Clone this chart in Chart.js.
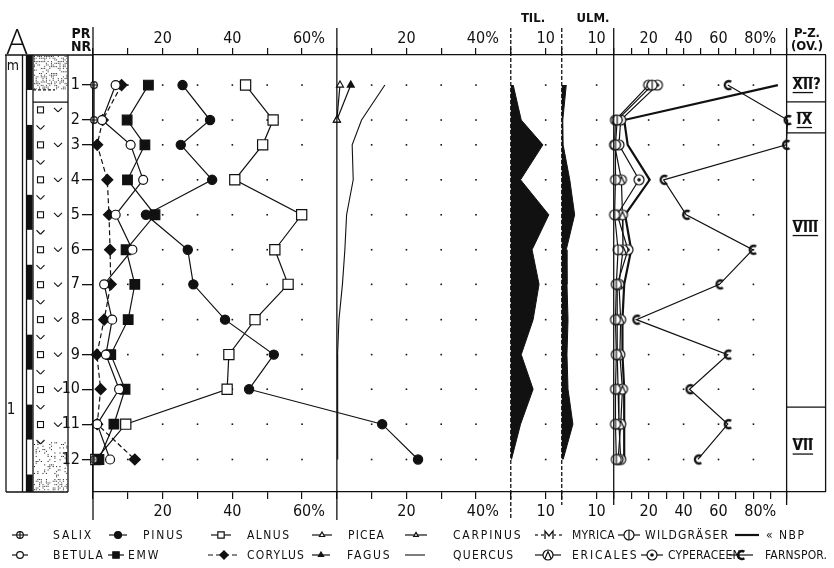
<!DOCTYPE html>
<html>
<head>
<meta charset="utf-8">
<script src="https://cdn.jsdelivr.net/npm/chart.js"></script>
<style>
  html, body { margin: 0; padding: 0; background: #fff; }
  #diagramm { display: block; }
</style>
</head>
<body>
<canvas id="diagramm" width="834" height="568"></canvas>
<script>
  // Proben und Tiefen (cm)
  const probeNr = [1, 2, 3, 4, 5, 6, 7, 8, 9, 10, 11, 12];
  const tiefeCm = [8.6, 18.6, 25.7, 35.7, 45.7, 55.7, 65.6, 75.7, 85.7, 95.6, 105.6, 115.7];

  // Baumpollen (%)
  const salix   = [0.3, 0.3, null, null, null, null, null, null, null, null, null, 0.3];
  const betula  = [6.5, 2.6, 10.8, 14.4, 6.5, 11.3, 3.2, 5.5, 3.7, 7.5, 1.2, 4.9];
  const pinus   = [25.7, 33.6, 25.2, 34.2, 15.2, 27.2, 28.8, 37.9, 51.9, 44.8, 83.0, 93.3];
  const emw     = [15.9, 9.8, 14.9, 9.9, 17.8, 9.5, 12.0, 10.1, 5.1, 9.2, 6.0, 1.7];
  const alnus   = [43.8, 51.7, 48.7, 40.7, 59.9, 52.2, 56.0, 46.5, 39.0, 38.5, 9.4, 0.8];
  const corylus = [8.2, 2.8, 1.2, 4.1, 4.6, 4.9, 5.1, 3.2, 1.1, 2.2, 1.2, 12.0];

  const picea    = [0.9, 0, null, null, null, null, null, null, null, null, null, null];
  const fagus    = [4.0, 0, null, null, null, null, null, null, null, null, null, null];
  const carpinus = [null, null, null, null, null, null, null, null, null, null, null, null];
  const myrica   = [null, null, null, null, null, null, null, null, null, null, null, null];
  const quercus  = [13.8, 7.1, 4.4, 4.7, 2.8, 2.3, 1.6, 0.6, 0.2, 0.3, 0.2, 0.2];

  const tilia = [0.7, 3.0, 9.2, 2.8, 10.9, 6.1, 8.1, 6.4, 3.0, 6.4, 2.8, 0.2];
  const ulmus = [1.3, 0.3, 0.4, 2.3, 3.7, 1.3, 1.5, 1.8, 1.5, 1.8, 3.2, 0.4];

  // Nichtbaumpollen und Sporen (%)
  const wildgraeser = [22, 2, 1, 1, 0.5, 2.5, 1.5, 1, 1.5, 1, 1, 1.5];
  const ericales    = [20, 1, 0.5, 4.4, 5, 5.3, 3, 4, 3.5, 5, 4, 2.5];
  const cyperaceen  = [25, 4, 3, 14.5, 2, 8.2, 2, 2, 2, 2.5, 3, 4];
  const nbp         = [94, 6, 8, 20.6, 6.5, 10, 6, 5, 5, 6, 6, 6];
  const farnsporen  = [65.3, 99.6, 98.7, 28.6, 41.5, 79.6, 60.6, 13, 65.3, 43.4, 65.3, 48.2];

  // Achsen: Teilstriche und Beschriftungen
  const p1Ticks = [0, 10, 20, 30, 40, 50, 60, 70];
  const p1Labels = ['', '', '20', '', '40', '', '\u2007 60%', ''];
  const p2Ticks = [0, 10, 20, 30, 40, 50];
  const p2Labels = ['', '', '20', '', '\u2007 40%', ''];
  const tilTicks = [0, 10, 14.6];
  const tilLabels = ['', '10', ''];
  const ulmTicks = [0, 10, 14.9];
  const ulmLabels = ['', '10', ''];
  const p5Ticks = [0, 10, 20, 30, 40, 50, 60, 70, 80, 90, 99];
  const p5Labels = ['', '', '20', '', '40', '', '60', '', '\u2007 80%', '', ''];

  // Pollenzonen (OV.)
  const zonenName = ['XII', 'IX', 'VIII', 'VII'];
  const zonenZusatz = ['?', '', '', ''];
  const zonenMitte = [8.6, 18.6, 49.5, 112];
  const zonenGrenzen = [13.4, 22.3, 100.7];

  const schrift = '"DejaVu Sans Condensed", "DejaVu Sans", sans-serif';
  const schwarz = '#111';
  Chart.defaults.font.family = schrift;
  Chart.defaults.color = schwarz;

  function marke(groesse, zeichnen) {
    const c = document.createElement('canvas');
    c.width = groesse; c.height = groesse;
    const g = c.getContext('2d');
    g.strokeStyle = schwarz; g.fillStyle = schwarz; g.lineWidth = 1.2;
    zeichnen(g, groesse / 2);
    return c;
  }
  function kreis(g, m, r) {
    g.beginPath(); g.arc(m, m, r, 0, Math.PI * 2);
    g.fillStyle = '#fff'; g.fill(); g.stroke(); g.fillStyle = schwarz;
  }
  const mSalix = marke(10, (g, m) => {
    kreis(g, m, 3.3);
    g.beginPath(); g.moveTo(m - 3.3, m); g.lineTo(m + 3.3, m); g.moveTo(m, m - 3.3); g.lineTo(m, m + 3.3); g.stroke();
  });
  const mWild = marke(14, (g, m) => {
    kreis(g, m, 5);
    g.beginPath(); g.moveTo(m, m - 5); g.lineTo(m, m + 5); g.stroke();
  });
  const mEric = marke(14, (g, m) => {
    kreis(g, m, 5);
    g.beginPath(); g.moveTo(m - 3, m + 3.5); g.lineTo(m, m - 3.5); g.lineTo(m + 3, m + 3.5); g.stroke();
  });
  const mCyper = marke(14, (g, m) => {
    kreis(g, m, 5);
    g.beginPath(); g.arc(m, m, 1.8, 0, Math.PI * 2); g.fill();
  });
  const mFarn = marke(14, (g, m) => {
    g.lineWidth = 2.4;
    g.beginPath(); g.arc(m + 1, m, 4, 0.3 * Math.PI, 1.7 * Math.PI); g.stroke();
  });
  const mMyrica = marke(12, (g, m) => {
    g.fillStyle = '#fff'; g.fillRect(1, 1, 10, 10);
    g.lineWidth = 1.3;
    g.beginPath(); g.moveTo(m - 4, m + 4); g.lineTo(m - 4, m - 4); g.lineTo(m, m + 1); g.lineTo(m + 4, m - 4); g.lineTo(m + 4, m + 4); g.stroke();
  });

  function reihe(label, werte, achse, stil) {
    return Object.assign({
      label: label,
      xAxisID: achse,
      yAxisID: 'y',
      data: werte.map((v, i) => ({ x: v, y: tiefeCm[i] })),
      borderColor: schwarz,
      borderWidth: 1.2,
      pointBorderColor: schwarz,
      pointBackgroundColor: schwarz,
      pointBorderWidth: 1.2,
      pointRadius: 4,
      fill: false,
      tension: 0,
      spanGaps: false,
      clip: false
    }, stil);
  }

  const datensaetze = [
    reihe('SALIX', salix, 'p1', { pointStyle: mSalix }),
    reihe('BETULA', betula, 'p1', { pointStyle: 'circle', pointRadius: 4.5, pointBackgroundColor: '#fff' }),
    reihe('PINUS', pinus, 'p1', { pointStyle: 'circle', pointRadius: 4.6 }),
    reihe('EMW', emw, 'p1', { pointStyle: 'rect', pointRadius: 6.8 }),
    reihe('ALNUS', alnus, 'p1', { pointStyle: 'rect', pointRadius: 7.2, pointBackgroundColor: '#fff' }),
    reihe('CORYLUS', corylus, 'p1', { pointStyle: 'rectRot', pointRadius: 5.5, borderDash: [5, 3] }),
    reihe('PICEA', picea, 'p2', { pointStyle: 'triangle', pointRadius: 4, pointBackgroundColor: '#fff' }),
    reihe('FAGUS', fagus, 'p2', { pointStyle: 'triangle', pointRadius: 4 }),
    reihe('CARPINUS', carpinus, 'p2', { pointStyle: 'triangle', pointRadius: 3.5, pointBackgroundColor: '#fff' }),
    reihe('MYRICA', myrica, 'p2', { pointStyle: mMyrica, borderDash: [3, 3] }),
    reihe('QUERCUS', quercus, 'p2', { pointRadius: 0, borderWidth: 1.1 }),
    reihe('TIL.', tilia, 'til', { pointRadius: 0, borderWidth: 1, fill: 'origin', backgroundColor: schwarz }),
    reihe('ULM.', ulmus, 'ulm', { pointRadius: 0, borderWidth: 1, fill: 'origin', backgroundColor: schwarz }),
    reihe('WILDGRÄSER', wildgraeser, 'p5', { pointStyle: mWild }),
    reihe('ERICALES', ericales, 'p5', { pointStyle: mEric }),
    reihe('CYPERACEEN', cyperaceen, 'p5', { pointStyle: mCyper }),
    reihe('NBP', nbp, 'p5', { pointRadius: 0, borderWidth: 2.2 }),
    reihe('FARNSPOR.', farnsporen, 'p5', { pointStyle: mFarn })
  ];

  function xAchse(pos, gewicht, breite, max, ticks, labels) {
    return {
      type: 'linear',
      position: pos,
      stack: pos === 'top' ? 'oben' : 'unten',
      stackWeight: breite,
      weight: gewicht,
      min: 0,
      max: max,
      afterBuildTicks: s => { s.ticks = ticks.map(v => ({ value: v })); },
      afterFit: s => { s.height = pos === 'top' ? 55 : 76; },
      ticks: {
        autoSkip: false, maxRotation: 0, minRotation: 0,
        padding: pos === 'top' ? 0 : 3,
        color: schwarz,
        font: { family: schrift, size: 16 },
        callback: (v, i) => labels[i]
      },
      grid: { drawOnChartArea: false, tickLength: 7, color: schwarz, lineWidth: 1.2 },
      border: { color: schwarz, width: 1.3 }
    };
  }
  function zonenAchse(pos, gewicht) {
    return {
      type: 'linear', position: pos, stack: pos === 'top' ? 'oben' : 'unten',
      stackWeight: 39, weight: gewicht, min: 0, max: 1,
      afterFit: s => { s.height = pos === 'top' ? 55 : 76; },
      ticks: { display: false },
      grid: { display: false },
      border: { color: schwarz, width: 1.3 }
    };
  }

  // Punktraster in den Feldern
  const punktRaster = {
    p1: [10, 20, 30, 40, 50, 60],
    p2: [10, 20, 30, 40],
    til: [10],
    ulm: [10],
    p5: [20, 40, 60, 80]
  };

  const legende = [
    { label: 'SALIX', sx: 20, h: 8, tx: 53, ende: 93, reihe: 0 },
    { label: 'PINUS', sx: 118, h: 9, tx: 143, ende: 183, reihe: 0 },
    { label: 'ALNUS', sx: 221, h: 10, tx: 247, ende: 289, reihe: 0 },
    { label: 'PICEA', sx: 322, h: 10, tx: 348, ende: 384, reihe: 0 },
    { label: 'CARPINUS', sx: 416, h: 11, tx: 453, ende: 528, reihe: 0 },
    { label: 'MYRICA', sx: 549, h: 14, tx: 572, ende: 612, reihe: 0 },
    { label: 'WILDGRÄSER', sx: 629, h: 11, tx: 645, ende: 728, reihe: 0 },
    { label: 'NBP', text: '« NBP', sx: 747, h: 12, tx: 766, ende: 804, reihe: 0 },
    { label: 'BETULA', sx: 20, h: 8, tx: 53, ende: 103, reihe: 1 },
    { label: 'EMW', sx: 116, h: 8, tx: 128, ende: 173, reihe: 1 },
    { label: 'CORYLUS', sx: 224, h: 16, tx: 247, ende: 304, reihe: 1 },
    { label: 'FAGUS', sx: 321, h: 9, tx: 347, ende: 399, reihe: 1 },
    { label: 'QUERCUS', sx: 415, h: 10, tx: 453, ende: 513, reihe: 1 },
    { label: 'ERICALES', sx: 548, h: 13, tx: 572, ende: 641, reihe: 1 },
    { label: 'CYPERACEEN', sx: 652, h: 11, tx: 668, ende: 733, reihe: 1 },
    { label: 'FARNSPOR.', sx: 741, h: 12, tx: 765, ende: 815, reihe: 1 }
  ];

  function linie(ctx, x0, y0, x1, y1) {
    ctx.beginPath(); ctx.moveTo(x0, y0); ctx.lineTo(x1, y1); ctx.stroke();
  }
  function zufall(i, j) {
    const h = Math.sin(i * 12.9898 + j * 78.233) * 43758.5453;
    return h - Math.floor(h);
  }
  function punkte(ctx, x0, y0, x1, y1, dichte) {
    for (let x = x0 + 1; x < x1 - 1; x += 1.7) {
      for (let y = y0 + 1; y < y1 - 0.5; y += 1.7) {
        if (zufall(Math.round(x * 10), Math.round(y * 10)) < dichte) ctx.fillRect(x, y, 1, 1);
      }
    }
  }

  const deko = {
    id: 'deko',
    beforeDatasetsDraw(chart) {
      const ctx = chart.ctx, ys = chart.scales.y;
      ctx.save();
      ctx.fillStyle = schwarz;
      Object.keys(punktRaster).forEach(id => {
        const xs = chart.scales[id];
        punktRaster[id].forEach(v => {
          tiefeCm.forEach(d => {
            ctx.fillRect(xs.getPixelForValue(v) - 0.8, ys.getPixelForValue(d) - 0.8, 1.6, 1.6);
          });
        });
      });
      ctx.restore();
    },
    afterDraw(chart) {
      const ctx = chart.ctx, ys = chart.scales.y, ca = chart.chartArea;
      const s = chart.scales;
      const oben = ca.top, unten = ca.bottom;
      ctx.save();
      ctx.strokeStyle = schwarz; ctx.fillStyle = schwarz; ctx.lineWidth = 1.3;

      // Trennlinien der Felder
      const trenn = [
        { x: s.p1.left, y0: 27, y1: 520, strich: [] },
        { x: s.p2.left, y0: 28, y1: 520, strich: [] },
        { x: s.til.left, y0: 28, y1: 518, strich: [4, 2] },
        { x: s.ulm.left, y0: 28, y1: 505, strich: [4, 2] },
        { x: s.p5.left, y0: 28, y1: 505, strich: [] },
        { x: s.pz.left, y0: 28, y1: 505, strich: [] },
        { x: s.pz.right, y0: oben, y1: unten, strich: [] }
      ];
      trenn.forEach(t => { ctx.setLineDash(t.strich); linie(ctx, t.x, t.y0, t.x, t.y1); });
      ctx.setLineDash([]);

      // Lithologie
      linie(ctx, 5, oben, s.p1.left, oben);
      linie(ctx, 6, oben, 6, unten);
      linie(ctx, 22.5, oben, 22.5, unten);
      linie(ctx, 26.5, oben, 26.5, unten);
      linie(ctx, 33, oben, 33, unten);
      linie(ctx, 68, oben, 68, unten);
      linie(ctx, 6, unten, 68, unten);
      for (let d = 0; d < 125; d += 20) {
        const a = ys.getPixelForValue(d), b = ys.getPixelForValue(Math.min(d + 10, 125));
        ctx.fillRect(27, a, 5.5, b - a);
      }
      ctx.fillStyle = '#333';
      punkte(ctx, 33, oben, 68, ys.getPixelForValue(10), 0.5);
      ctx.fillStyle = schwarz;
      ctx.setLineDash([3, 2]);
      linie(ctx, 33, ys.getPixelForValue(10), 55, ys.getPixelForValue(10));
      ctx.setLineDash([]);
      linie(ctx, 33, ys.getPixelForValue(13.5), 68, ys.getPixelForValue(13.5));
      ctx.lineWidth = 1.1;
      for (let d = 15.7; d < 112; d += 10) {
        const y = ys.getPixelForValue(d);
        ctx.strokeRect(37.5, y - 3, 6, 6);
        linie(ctx, 54, y - 2, 58, y + 2); linie(ctx, 58, y + 2, 62, y - 2);
        if (d + 5 < 112) {
          const y2 = ys.getPixelForValue(d + 5);
          linie(ctx, 36.5, y2 - 2, 40.5, y2 + 2); linie(ctx, 40.5, y2 + 2, 44.5, y2 - 2);
        }
      }
      punkte(ctx, 33, ys.getPixelForValue(110.5), 68, ys.getPixelForValue(121), 0.2);
      ctx.fillStyle = '#333';
      punkte(ctx, 33, ys.getPixelForValue(121), 68, unten, 0.5);
      ctx.fillStyle = schwarz;
      ctx.font = '14px ' + schrift;
      ctx.textAlign = 'center'; ctx.textBaseline = 'middle';
      ctx.fillText('m', 13, 66);
      ctx.font = '15px ' + schrift;
      ctx.fillText('1', 11, ys.getPixelForValue(101.5));

      // Kopfzeile
      ctx.font = '300 35px "Open Sans", ' + schrift;
      ctx.textBaseline = 'alphabetic';
      ctx.fillText('A', 17, 54);
      ctx.font = 'bold 14px ' + schrift;
      ctx.textBaseline = 'middle';
      ctx.fillText('PR', 81, 34);
      ctx.fillText('NR', 81, 47);
      ctx.font = 'bold 13px ' + schrift;
      ctx.fillText('TIL.', 533, 19);
      ctx.fillText('ULM.', 593, 19);
      ctx.fillText('P-Z.', 807, 34);
      ctx.fillText('(OV.)', 807, 47);

      // Pollenzonen
      ctx.lineWidth = 1.3;
      const zx0 = s.pz.left, zx1 = s.pz.right;
      zonenGrenzen.forEach(d => { const y = ys.getPixelForValue(d); linie(ctx, zx0, y, zx1, y); });
      ctx.font = 'bold 15px ' + schrift;
      ctx.textAlign = 'left';
      zonenName.forEach((z, i) => {
        const y = ys.getPixelForValue(zonenMitte[i]);
        const x = zx0 + (i === 1 ? 10 : 6);
        const w = ctx.measureText(z).width;
        ctx.fillText(z + zonenZusatz[i], x, y);
        linie(ctx, x, y - 7.5, x + w, y - 7.5);
        linie(ctx, x, y + 7.5, x + w, y + 7.5);
      });

      // Legende
      ctx.font = '12px ' + schrift;
      legende.forEach(e => {
        const ds = chart.data.datasets.find(d => d.label === e.label);
        const y = e.reihe === 0 ? 535 : 555;
        ctx.lineWidth = ds.borderWidth;
        ctx.setLineDash(ds.borderDash || []);
        linie(ctx, e.sx - e.h, y, e.sx + e.h, y);
        ctx.setLineDash([]);
        if (ds.pointRadius > 0) {
          ctx.fillStyle = ds.pointBackgroundColor;
          ctx.strokeStyle = ds.pointBorderColor;
          ctx.lineWidth = ds.pointBorderWidth;
          Chart.helpers.drawPoint(ctx, { pointStyle: ds.pointStyle, radius: Math.min(ds.pointRadius * 0.75, 4.5), borderWidth: ds.pointBorderWidth, rotation: 0 }, e.sx, y);
        }
        ctx.fillStyle = schwarz; ctx.strokeStyle = schwarz;
        ctx.textAlign = 'left'; ctx.textBaseline = 'middle';
        const text = e.text || e.label;
        ctx.letterSpacing = '0px';
        const roh = ctx.measureText(text).width;
        const abstand = Math.max(0.2, Math.min(1.8, (e.ende - e.tx - roh) / Math.max(1, text.length - 1)));
        ctx.letterSpacing = abstand.toFixed(2) + 'px';
        ctx.fillText(text, e.tx, y + 0.5);
      });
      ctx.restore();
    }
  };

  new Chart(document.getElementById('diagramm'), {
    type: 'line',
    data: { datasets: datensaetze },
    options: {
      responsive: false,
      animation: false,
      devicePixelRatio: 1,
      indexAxis: 'y',
      events: [],
      layout: { padding: { left: 0, right: 8, top: 0, bottom: 0 } },
      plugins: { legend: { display: false }, tooltip: { enabled: false } },
      scales: {
        y: {
          type: 'linear', position: 'left', reverse: true, min: 0, max: 125,
          afterBuildTicks: s => { s.ticks = tiefeCm.map(v => ({ value: v })); },
          afterFit: s => { s.width = 93; },
          ticks: {
            autoSkip: false, padding: 2, color: schwarz,
            font: { family: schrift, size: 16 },
            callback: (v, i) => String(probeNr[i])
          },
          grid: { drawOnChartArea: false, tickLength: 11, color: schwarz, lineWidth: 1.3 },
          border: { color: schwarz, width: 1.3 }
        },
        t1: xAchse('top', 5, 244, 70, p1Ticks, p1Labels),
        t2: xAchse('top', 4, 174, 50, p2Ticks, p2Labels),
        tt: xAchse('top', 3, 51, 14.6, tilTicks, tilLabels),
        tu: xAchse('top', 2, 52, 14.9, ulmTicks, ulmLabels),
        t5: xAchse('top', 1, 173, 99, p5Ticks, p5Labels),
        tz: zonenAchse('top', 0),
        p1: xAchse('bottom', 0, 244, 70, p1Ticks, p1Labels),
        p2: xAchse('bottom', 1, 174, 50, p2Ticks, p2Labels),
        til: xAchse('bottom', 2, 51, 14.6, tilTicks, tilLabels),
        ulm: xAchse('bottom', 3, 52, 14.9, ulmTicks, ulmLabels),
        p5: xAchse('bottom', 4, 173, 99, p5Ticks, p5Labels),
        pz: zonenAchse('bottom', 5)
      }
    },
    plugins: [deko]
  });
</script>
</body>
</html>
